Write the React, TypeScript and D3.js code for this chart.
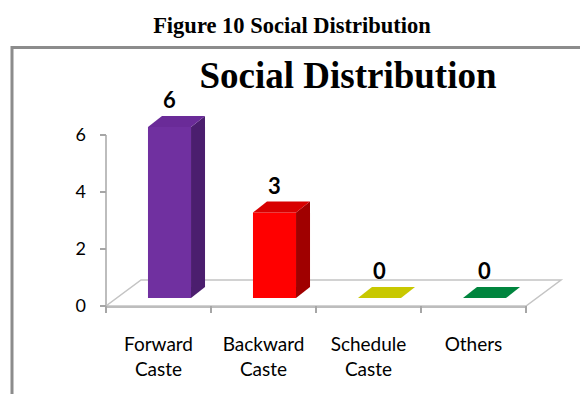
import React from "react";
import * as d3 from "d3";

const categories: string[][] = [["Forward", "Caste"], ["Backward", "Caste"], ["Schedule", "Caste"], ["Others"]];
const values: number[] = [6, 3, 0, 0];
const frontColors: string[] = ["#7030A0", "#FF0000", "#C8C800", "#00853E"];
const topColors: string[] = ["#6A2B98", "#D80000", "#C8C800", "#00853E"];
const sideColors: string[] = ["#4B1E6E", "#A00000", "#9A9A00", "#005A2A"];
const yTicks: number[] = [0, 2, 4, 6];

const W = 580;
const H = 394;

export default function App() {
  const keys = categories.map((c) => c.join(" "));
  const x = d3.scaleBand<string>().domain(keys).range([106, 526]).padding(0);
  const y = d3.scaleLinear().domain([0, 6]).range([306, 135]);
  const bw = x.bandwidth();
  const barW = bw * 0.41;
  const floorDx = 35, floorDy = -26;
  const offX = 11, offY = -8; // bar front plane offset into depth
  const dDx = 14, dDy = -11; // bar depth
  const x0 = x.range()[0], x1 = x.range()[1];
  const y0 = y(0);
  const font = "Lato, 'Open Sans', sans-serif";
  const serif = "'Liberation Serif', 'Times New Roman', serif";

  return (
    <svg width={W} height={H} style={{ position: "absolute", left: 0, top: 0, background: "#fff" }}>
      <text x={292} y={33} textAnchor="middle" fontFamily={serif} fontWeight="bold" fontSize={22.5}>
        Figure 10 Social Distribution
      </text>
      <rect x={12} y={47.5} width={W + 20} height={H} fill="none" stroke="#8c8c8c" strokeWidth={3} />
      <text x={348} y={88} textAnchor="middle" fontFamily={serif} fontWeight="bold" fontSize={37}>
        Social Distribution
      </text>

      {/* floor */}
      <polygon
        points={`${x0},${y0} ${x1},${y0} ${x1 + floorDx},${y0 + floorDy} ${x0 + floorDx},${y0 + floorDy}`}
        fill="#fff"
        stroke="#c4c4c4"
        strokeWidth={1.5}
      />
      <line x1={x0} x2={x1} y1={y0 + 1} y2={y0 + 1} stroke="#bdbdbd" strokeWidth={2} />

      {/* y axis */}
      <line x1={x0} x2={x0} y1={y(0)} y2={y(6)} stroke="#bdbdbd" strokeWidth={2} />
      {yTicks.map((t) => (
        <g key={t}>
          <line x1={x0 - 6} x2={x0} y1={y(t)} y2={y(t)} stroke="#a6a6a6" strokeWidth={2} />
          <text x={86} y={y(t) + 6} textAnchor="end" fontFamily={font} fontSize={18} fill="#000">
            {t}
          </text>
        </g>
      ))}

      {/* category ticks */}
      {[...keys.map((k) => x(k) as number), x1].map((px, i) => (
        <line key={i} x1={px} x2={px} y1={y0} y2={y0 + 7} stroke="#a6a6a6" strokeWidth={2} />
      ))}

      {/* bars */}
      {keys.map((k, i) => {
        const bx = (x(k) as number) + (bw - barW) / 2 + offX;
        const bottom = y0 + offY;
        const top = y(values[i]) + offY;
        return (
          <g key={k}>
            {values[i] > 0 && (
              <>
                <rect x={bx} y={top} width={barW} height={bottom - top} fill={frontColors[i]} />
                <polygon
                  points={`${bx + barW},${top} ${bx + barW + dDx},${top + dDy} ${bx + barW + dDx},${bottom + dDy} ${bx + barW},${bottom}`}
                  fill={sideColors[i]}
                />
              </>
            )}
            <polygon
              points={`${bx},${top} ${bx + barW},${top} ${bx + barW + dDx},${top + dDy} ${bx + dDx},${top + dDy}`}
              fill={topColors[i]}
            />
            <text
              x={bx + barW / 2}
              y={top + dDy - 8}
              textAnchor="middle"
              fontFamily={font}
              fontWeight="bold"
              fontSize={22}
              fill="#000"
            >
              {values[i]}
            </text>
          </g>
        );
      })}

      {/* category labels */}
      {categories.map((lines, i) => (
        <text
          key={i}
          x={(x(keys[i]) as number) + bw / 2}
          y={351}
          textAnchor="middle"
          fontFamily={font}
          fontSize={19}
          fill="#000"
        >
          {lines.map((l, j) => (
            <tspan key={j} x={(x(keys[i]) as number) + bw / 2} dy={j === 0 ? 0 : 25}>
              {l}
            </tspan>
          ))}
        </text>
      ))}
    </svg>
  );
}
